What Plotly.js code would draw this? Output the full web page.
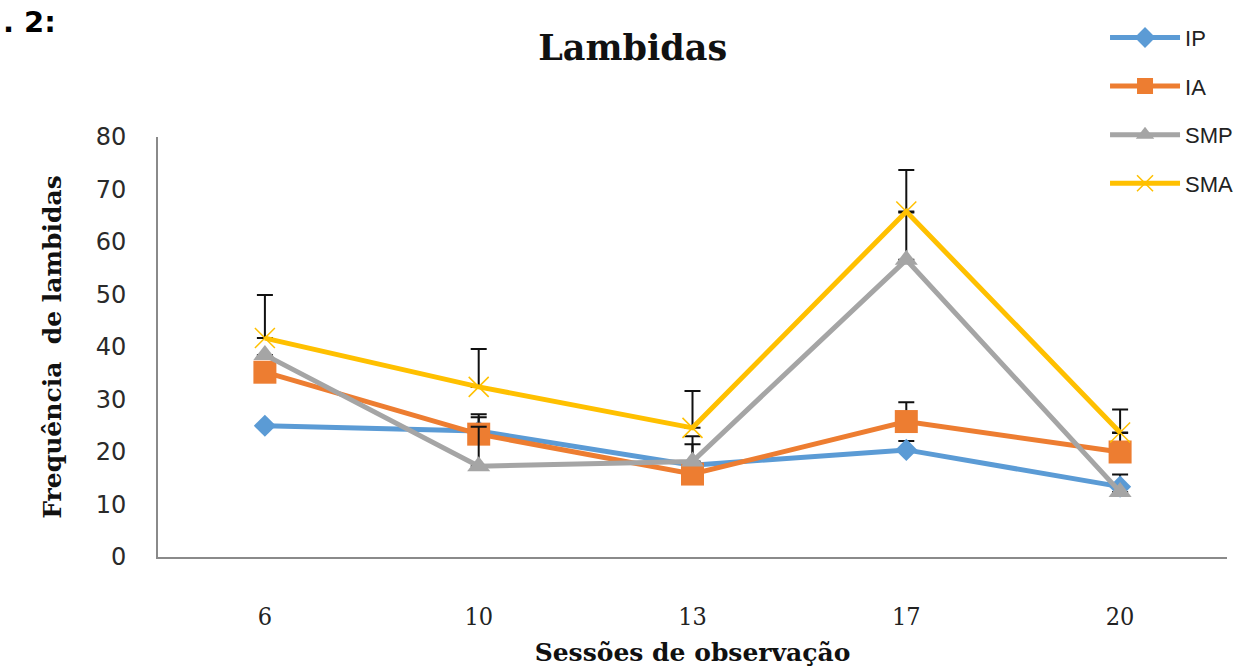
<!DOCTYPE html>
<html>
<head>
<meta charset="utf-8">
<script src="https://cdn.plot.ly/plotly-3.0.1.min.js"></script>
<style>html,body{margin:0;padding:0;background:#fff;}#chart{width:1243px;height:667px;}</style>
</head>
<body>
<div id="chart"></div>
<script>
const sessions = ["6", "10", "13", "17", "20"];
const seriesNames = ["IP", "IA", "SMP", "SMA"];
const ipValues  = [25.0, 24.0, 17.5, 20.4, 13.4];
const iaValues  = [35.2, 23.4, 15.8, 25.8, 20.0];
const smpValues = [38.5, 17.3, 18.2, 56.6, 12.4];
const smaValues = [41.7, 32.4, 24.6, 65.8, 23.7];
const ipErr  = [null, 2.6, 4.0, 1.7, 2.3];
const iaErr  = [null, 3.8, null, 3.7, 3.6];
const smpErr = [null, 7.5, 4.8, 9.0, null];
const smaErr = [8.2, 7.2, 7.0, 7.9, 4.4];
const yTicks = [0, 10, 20, 30, 40, 50, 60, 70, 80];

const colors = ["#5B9BD5", "#ED7D31", "#A5A5A5", "#FFC000"];
const symbols = ["diamond", "square", "triangle-up", "x-thin"];
const sizes = [17, 23, 20, 20];
const values = [ipValues, iaValues, smpValues, smaValues];
const errs = [ipErr, iaErr, smpErr, smaErr];

const traces = seriesNames.map((name, i) => ({
  type: "scatter",
  mode: "lines+markers",
  name: name,
  legendgroup: name,
  x: sessions,
  y: values[i],
  line: {color: colors[i], width: 5},
  marker: {
    symbol: symbols[i],
    size: sizes[i],
    color: colors[i],
    line: symbols[i] === "x-thin" ? {color: colors[i], width: 1.5} : {width: 0}
  },
  error_y: {type: "data", symmetric: false, array: errs[i], arrayminus: errs[i].map(() => 0),
            color: "#111", thickness: 2, width: 8}
}));

const serif = "DejaVu Serif, serif";
const layout = {
  width: 1243, height: 667,
  paper_bgcolor: "#fff", plot_bgcolor: "#fff",
  margin: {l: 158, r: 16, t: 137, b: 110, autoexpand: false},
  title: {text: "<b>Lambidas</b>", font: {family: serif, size: 35, color: "#111"},
          x: 0.509, xanchor: "center", y: 0.928, yanchor: "middle"},
  xaxis: {
    type: "category", range: [-0.5, 4.5],
    showline: true, linecolor: "#8a8a8a", linewidth: 2,
    showgrid: false, zeroline: false, ticks: "",
    ticklabelstandoff: 36,
    tickfont: {family: "DejaVu Serif Condensed, DejaVu Serif, serif", size: 25, color: "#222"},
    title: {text: "<b>Sessões de observação</b>", font: {family: serif, size: 25, color: "#111"}, standoff: 15}
  },
  yaxis: {
    range: [0, 80], tickvals: yTicks,
    showline: true, linecolor: "#8a8a8a", linewidth: 2,
    showgrid: false, zeroline: false, ticks: "",
    ticklabelstandoff: 25,
    tickfont: {family: "DejaVu Sans, sans-serif", size: 24, color: "#2a2a2a"},
    title: {text: "<b>Frequência  de lambidas</b>", font: {family: serif, size: 25, color: "#111"}, standoff: 27}
  },
  showlegend: true,
  legend: {
    xref: "container", yref: "container",
    x: 0.889, y: 0.975, xanchor: "left", yanchor: "top",
    traceorder: "grouped", tracegroupgap: 17,
    itemwidth: 70,
    font: {family: "Liberation Sans, Arial, sans-serif", size: 22, color: "#222"},
    bgcolor: "rgba(0,0,0,0)"
  },
  annotations: [{
    text: "<b>. 2:</b>", xref: "paper", yref: "paper",
    x: -0.147, y: 1.318, xanchor: "left", yanchor: "top",
    showarrow: false, font: {family: "DejaVu Sans, sans-serif", size: 29, color: "#000"}
  }]
};

Plotly.newPlot("chart", traces, layout, {displayModeBar: false, staticPlot: true});
</script>
</body>
</html>
